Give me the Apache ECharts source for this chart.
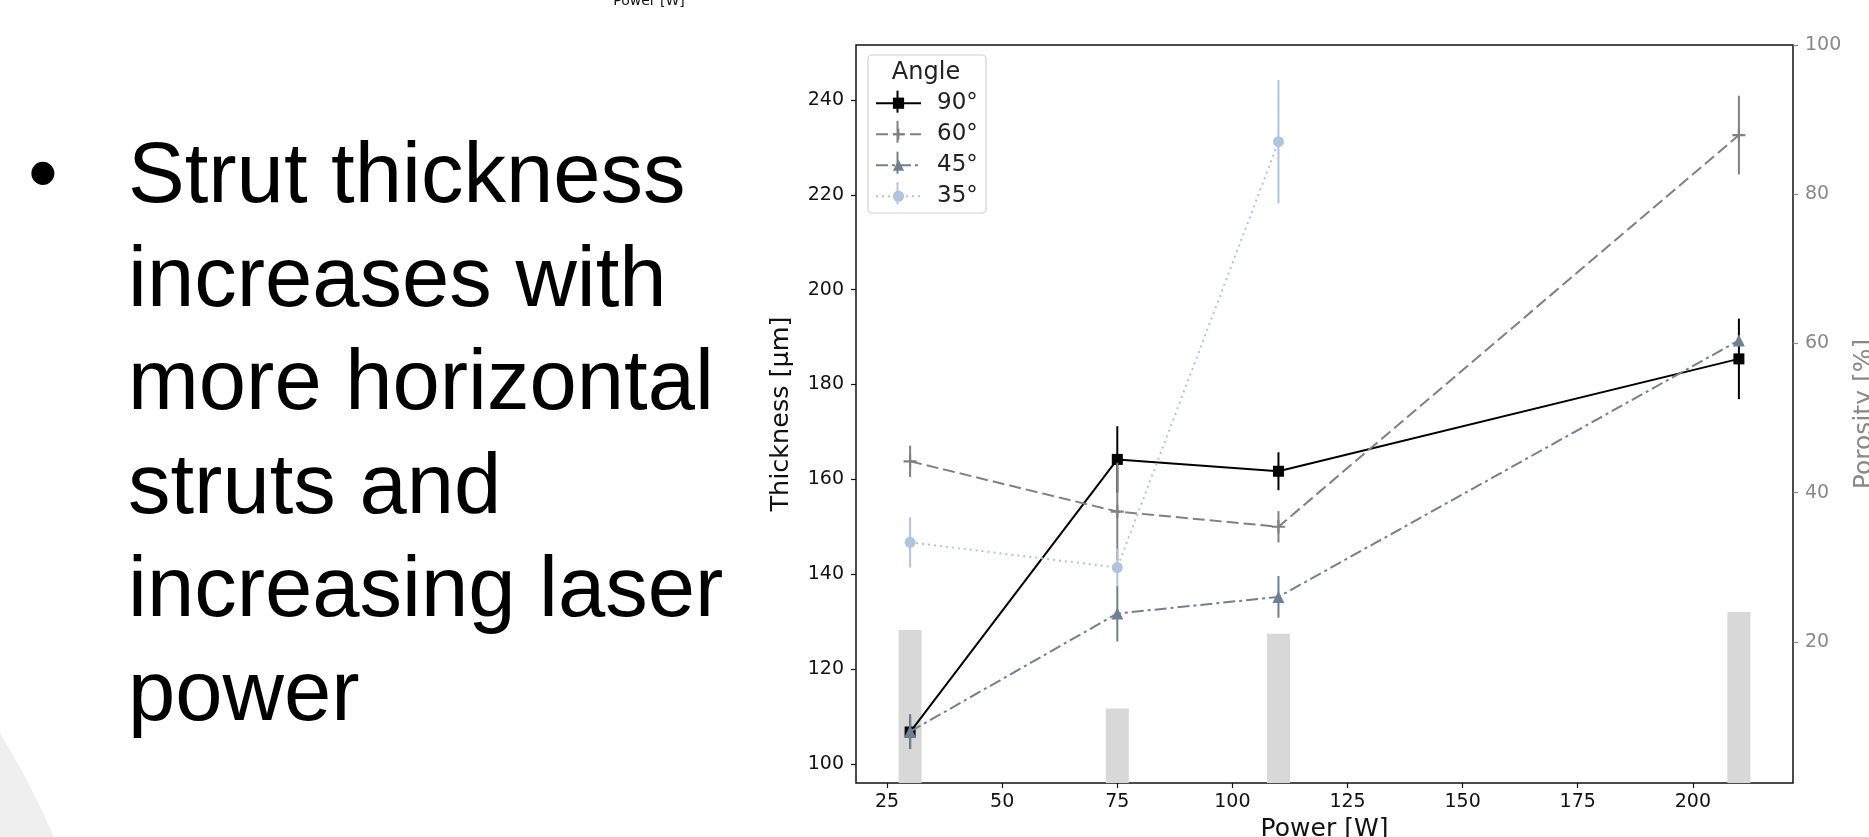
<!DOCTYPE html>
<html>
<head>
<meta charset="utf-8">
<script src="https://cdn.jsdelivr.net/npm/echarts@6/dist/echarts.min.js"></script>
<style>
  html, body { margin: 0; padding: 0; background: #fff; }
  #chart { width: 1869px; height: 837px; }
</style>
</head>
<body>
<div id="chart"></div>
<script>
// laser power [W]
const power = [30, 75, 110, 210];
const power35 = [30, 75, 110];

// strut thickness [um] and error per angle
const thick90 = [106.7, 164.2, 161.7, 185.4];
const err90 = [3.5, 7, 4, 8.5];
const thick60 = [163.8, 153.2, 150.0, 232.6];
const err60 = [3.3, 10.3, 3.3, 8.3];
const thick45 = [106.8, 131.7, 135.2, 189.3];
const err45 = [3.7, 5.9, 4.4, 1];
const thick35 = [146.7, 141.4, 231.2];
const err35 = [5.3, 4, 13];

// porosity [%] (bars, right axis)
const porosity = [21.6, 11.1, 21.1, 24.0];

const xTicks = [25, 50, 75, 100, 125, 150, 175, 200];
const yTicks = [100, 120, 140, 160, 180, 200, 220, 240];
const y2Ticks = [20, 40, 60, 80, 100];

const bulletLines = ['Strut thickness', 'increases with', 'more horizontal', 'struts and', 'increasing laser', 'power'];

const chartDom = document.getElementById('chart');
const myChart = echarts.init(chartDom, null, { renderer: 'canvas' });

const plusPath = 'path://M5,0H7V5H12V7H7V12H5V7H0V5H5Z';

function pairs(xs, ys) {
  return xs.map((x, i) => [x, ys[i]]);
}

function errSeries(name, xs, ys, es, color, z) {
  return {
    type: 'custom',
    name: name + ' err',
    silent: true,
    z: z,
    data: xs.map((x, i) => [x, ys[i] - es[i], ys[i] + es[i]]),
    encode: { x: 0, y: [1, 2] },
    renderItem: function (params, api) {
      const lo = api.coord([api.value(0), api.value(1)]);
      const hi = api.coord([api.value(0), api.value(2)]);
      return {
        type: 'line',
        shape: { x1: lo[0], y1: lo[1], x2: hi[0], y2: hi[1] },
        style: { stroke: color, lineWidth: 2 }
      };
    }
  };
}

function lineSeries(name, xs, ys, color, dash, symbol, size, z) {
  return {
    type: 'line',
    name: name,
    z: z,
    data: pairs(xs, ys),
    symbol: symbol,
    symbolSize: size,
    showAllSymbol: true,
    lineStyle: { color: color, width: 2, type: dash },
    itemStyle: { color: color, borderWidth: 0 },
    emphasis: { disabled: true }
  };
}

const tickFont = { fontFamily: 'DejaVu Sans', fontSize: 19 };
const legendRows = [101.7, 131.7, 162.7, 193.3];
const legendColors = ['#000000', '#808080', '#708090', '#b0c4de'];

const option = {
  animation: false,
  backgroundColor: '#ffffff',
  grid: {
    left: 856, top: 45, width: 937, height: 738,
    outerBoundsMode: 'none',
    containLabel: false,
    show: true, borderColor: '#111', borderWidth: 1.5, backgroundColor: 'transparent'
  },
  legend: {
    data: ['90°', '60°', '45°', '35°'],
    orient: 'vertical',
    left: 870,
    top: 86.7,
    z: 30,
    itemWidth: 45,
    itemHeight: 14,
    itemGap: 8,
    padding: 5,
    selectedMode: false,
    textStyle: { fontFamily: 'DejaVu Sans', fontSize: 23, color: '#222', lineHeight: 20, padding: [0, 0, 0, 11] }
  },
  xAxis: {
    type: 'value',
    min: 18.25, max: 221.75,
    name: 'Power [W]',
    nameLocation: 'middle',
    nameGap: 33,
    nameTextStyle: { fontFamily: 'DejaVu Sans', fontSize: 25, color: '#111' },
    axisLine: { show: false },
    axisTick: { show: true, length: 5, lineStyle: { color: '#111', width: 1.2 }, customValues: xTicks },
    axisLabel: Object.assign({ color: '#111', margin: 10, customValues: xTicks }, tickFont),
    splitLine: { show: false }
  },
  yAxis: [
    {
      type: 'value',
      min: 95.95, max: 251.6,
      name: 'Thickness [μm]',
      nameLocation: 'middle',
      nameRotate: 90,
      nameGap: 62,
      nameTextStyle: { fontFamily: 'DejaVu Sans', fontSize: 25.5, color: '#111' },
      axisLine: { show: false },
      axisTick: { show: true, length: 5, lineStyle: { color: '#111', width: 1.2 }, customValues: yTicks },
      axisLabel: Object.assign({ color: '#111', margin: 12, customValues: yTicks }, tickFont),
      splitLine: { show: false }
    },
    {
      type: 'value',
      position: 'right',
      min: 1.1, max: 100,
      name: 'Porosity [%]',
      nameLocation: 'middle',
      nameRotate: 90,
      nameGap: 54,
      nameTextStyle: { fontFamily: 'DejaVu Sans', fontSize: 25, color: '#888' },
      axisLine: { show: false },
      axisTick: { show: true, length: 5, lineStyle: { color: '#888', width: 1.2 }, customValues: y2Ticks },
      axisLabel: Object.assign({ color: '#888', margin: 12, customValues: y2Ticks }, tickFont),
      splitLine: { show: false }
    }
  ],
  graphic: [
    { type: 'circle', shape: { cx: -700, cy: 1162.5, r: 821.3 }, style: { fill: '#efefef' }, z: -10, silent: true },
    { type: 'text', x: 28, y: 127.2, style: { text: '•', font: '85px "Liberation Sans"', fill: '#000', verticalAlign: 'top', lineHeight: 103.5 }, silent: true },
    { type: 'text', x: 128, y: 127.2, style: { text: bulletLines.join('\n'), font: '85px "Liberation Sans"', fill: '#000', verticalAlign: 'top', lineHeight: 103.5 }, silent: true },
    { type: 'text', x: 649, y: 8, style: { text: 'Power [W]', font: '14px "DejaVu Sans"', fill: '#111', align: 'center', verticalAlign: 'bottom' }, silent: true },
    { type: 'rect', shape: { x: 868, y: 55, width: 118, height: 158, r: 4 }, style: { fill: '#ffffff', stroke: '#d0d0d0', lineWidth: 1.2 }, z: 0, silent: true },
    { type: 'text', x: 926, y: 72.3, style: { text: 'Angle', font: '24px "DejaVu Sans"', fill: '#222', align: 'center', verticalAlign: 'middle' }, z: 21, silent: true }
  ].concat(legendRows.map((y, i) => ({
    type: 'line', shape: { x1: 897.5, y1: y - 11, x2: 897.5, y2: y + 11 },
    style: { stroke: legendColors[i], lineWidth: 2 }, z: 22, silent: true
  }))),
  series: [
    {
      type: 'bar',
      name: 'Porosity',
      yAxisIndex: 1,
      barWidth: 23,
      z: 1,
      data: pairs(power, porosity),
      itemStyle: { color: '#d8d8d8' },
      emphasis: { disabled: true }
    },
    errSeries('90°', power, thick90, err90, '#000000', 3),
    lineSeries('90°', power, thick90, '#000000', 'solid', 'rect', 11, 4),
    errSeries('60°', power, thick60, err60, '#808080', 5),
    lineSeries('60°', power, thick60, '#808080', [12, 5], plusPath, 13, 6),
    errSeries('45°', power, thick45, err45, '#708090', 7),
    lineSeries('45°', power, thick45, '#708090', [12, 4, 3, 4], 'triangle', 12, 8),
    errSeries('35°', power35, thick35, err35, '#b0c4de', 9),
    lineSeries('35°', power35, thick35, '#b0c4de', [2, 4], 'circle', 11, 10)
  ]
};

myChart.setOption(option);
window.addEventListener('resize', myChart.resize);
</script>
</body>
</html>
